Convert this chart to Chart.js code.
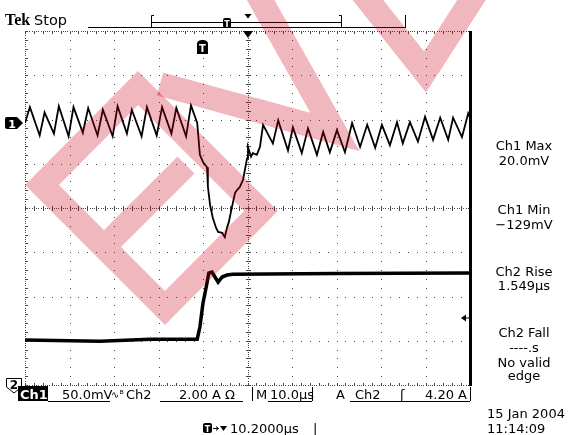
<!DOCTYPE html>
<html>
<head>
<meta charset="utf-8">
<script src="https://cdn.jsdelivr.net/npm/chart.js@4.4.1/dist/chart.umd.min.js"></script>
<style>
  html, body { margin: 0; padding: 0; background: #fff; }
  #wrap { position: relative; width: 573px; height: 435px; overflow: hidden; }
  #scope { position: absolute; left: 0; top: 0; }
  #overlay { position: absolute; left: 0; top: 0; }
  #overlay text { font-family: "DejaVu Sans", sans-serif; fill: #000; }
</style>
</head>
<body>
<div id="wrap">
  <canvas id="scope" width="573" height="435"></canvas>
  <svg id="overlay" width="573" height="435" xmlns="http://www.w3.org/2000/svg">
    <!-- header -->
    <text x="5" y="25" style="font-family:'Liberation Serif',serif;font-weight:bold;font-size:16px">Tek</text>
    <text x="34" y="25" style="font-size:14.5px">Stop</text>
    <line x1="88" y1="27.5" x2="406" y2="27.5" stroke="#000"/>
    <line x1="405.5" y1="15" x2="405.5" y2="28" stroke="#000"/>
    <path d="M154,15.5 H151.5 V27.5 H154 M339,15.5 H341.5 V27.5 H339" stroke="#000" fill="none"/>
    <line x1="151" y1="22.5" x2="341" y2="22.5" stroke="#000"/>
    <rect x="223" y="18" width="8" height="10" rx="2" fill="#000"/>
    <text x="227" y="26.5" text-anchor="middle" style="font-size:8px;font-weight:bold;fill:#fff">T</text>
    <path d="M244.5,14 L251.5,14 L248,18.5 Z" fill="#000"/>
    <!-- graticule markers -->
    <path d="M243,31 L253,31 L248,38 Z" fill="#000"/>
    <path d="M197,54 V44 Q197,40 202.5,40 Q208,40 208,44 V54 Z" fill="#000"/>
    <text x="202.5" y="51.5" text-anchor="middle" style="font-size:10px;font-weight:bold;fill:#fff">T</text>
    <path d="M7,117 H17 L23,123 L17,129 H7 Q5,129 5,127 V119 Q5,117 7,117 Z" fill="#000"/>
    <text x="12" y="127.5" text-anchor="middle" style="font-size:11px;font-weight:bold;fill:#fff">1</text>
    <path d="M6.5,378.5 H21.5 V387 L14,393 L6.5,387 Z" fill="#fff" stroke="#000"/>
    <text x="14" y="389" text-anchor="middle" style="font-size:12px;font-weight:bold">2</text>
    <path d="M461,318 L466,314.5 L466,321.5 Z M465,317.5 H469 V318.5 H465 Z" fill="#000"/>
    <!-- measurement readouts -->
    <g text-anchor="middle" style="font-size:13px">
      <text x="524" y="150">Ch1 Max</text>
      <text x="524" y="165">20.0mV</text>
      <text x="524" y="214">Ch1 Min</text>
      <text x="524" y="229">−129mV</text>
      <text x="524" y="276">Ch2 Rise</text>
      <text x="524" y="290">1.549µs</text>
      <text x="524" y="337">Ch2 Fall</text>
      <text x="524" y="352">----.s</text>
      <text x="524" y="367">No valid</text>
      <text x="524" y="380">edge</text>
    </g>
    <!-- status bar -->
    <rect x="18" y="386" width="30" height="15" fill="#000"/>
    <g style="font-size:13px">
      <text x="20" y="399" style="font-weight:bold;fill:#fff">Ch1</text>
      <text x="62" y="399">50.0mV</text>
      <text x="111" y="398" style="font-size:10px">∿ᴮ</text>
      <text x="126" y="399">Ch2</text>
      <text x="179" y="399">2.00 A Ω</text>
      <text x="256" y="399">M</text>
      <text x="270" y="399">10.0µs</text>
      <text x="336" y="399">A</text>
      <text x="355" y="399">Ch2</text>
      <text x="400" y="399">ʃ</text>
      <text x="425" y="399">4.20 A</text>
      <text x="487" y="418">15 Jan  2004</text>
      <text x="487" y="433">11:14:09</text>
      <text x="230" y="433">10.2000µs</text>
      <text x="313" y="433">|</text>
    </g>
    <path d="M48,401.5 H110 M160,401.5 H243 M268,401.5 H312 M350,401.5 H470" stroke="#000" fill="none"/>
    <path d="M252.5,387 V401 M312.5,387 V401 M470.5,387 V401" stroke="#000"/>
    <rect x="203" y="423" width="9" height="10" rx="2" fill="#000"/>
    <text x="207.5" y="431.5" text-anchor="middle" style="font-size:8px;font-weight:bold;fill:#fff">T</text>
    <path d="M213,428.5 H218 M216,426.5 L218.5,428.5 L216,430.5" stroke="#000" fill="none"/>
    <path d="M220,426 L227,426 L223.5,431 Z" fill="#000"/>
    <!-- watermark -->
    <g fill="none" stroke="rgba(200,0,20,0.28)" stroke-width="24" stroke-linejoin="miter" stroke-miterlimit="10">
      <path d="M138,88 L42,185 L165,308 L261,211 Z M104,247 L186,165"/>
      <path d="M160,84 L335,132 L255,-10"/>
      <path d="M360,-10 L425,72 L478,-10"/>
    </g>
  </svg>
</div>
<script>
// Ch1: 50.0 mV/div, Ch2: 2.00 A/div, 10.0 us/div
const ch1Time = [0, 1.1, 3.3, 4.4, 6.5, 7.6, 9.8, 10.9, 13.0, 14.2, 16.3, 17.5, 19.7, 20.8, 22.9, 24.0,
    26.2, 27.4, 29.6, 30.8, 32.9, 34.0, 36.2, 37.3,
    38.7, 39.3, 40.0, 40.9, 41.1, 41.6, 42.2, 42.9, 43.4, 44.3, 44.9, 45.4, 45.8, 46.5, 47.2, 47.6,
    48.3, 49.0, 49.9, 50.1, 50.8, 51.2, 52.1, 52.8,
    53.5, 55.7, 56.9, 59.1, 60.2, 62.2, 63.6, 65.6, 67.0, 68.5, 70.1, 71.9, 73.5, 75.3, 76.9, 78.7,
    80.2, 82.0, 83.6, 84.9, 86.5, 88.3, 89.9, 91.7, 93.3, 95.1, 96.2, 98.2, 99.6, 100];
const ch1MilliVolt = [0, 18, -14, 12, -12, 19, -15, 18, -11, 17, -14, 15, -15, 19, -12, 15,
    -15, 18, -14, 18, -12, 17, -15, 20,
    0, -36, -44, -50, -72, -93, -107, -118, -123, -124, -129, -118, -112, -95, -79, -76,
    -72, -64, -40, -27, -38, -34, -36, -27,
    -2, -23, 3, -31, -5, -34, -6, -36, -10, -33, -8, -33, 0, -27, -2, -28,
    -2, -25, 1, -23, 1, -21, 7, -19, 6, -19, 6, -16, 11, 6];

const ch2Time = [0, 16.9, 28.1, 38.7, 39.3, 40.0, 40.9, 41.3, 42.0, 42.7, 43.4, 44.3, 45.4, 46.7, 70, 100];
const ch2Amp = [3.21, 3.16, 3.25, 3.25, 3.80, 4.88, 5.79, 6.24, 6.28, 6.06, 5.83, 6.06, 6.15, 6.19, 6.22, 6.24];

// vertical settings (scale per div, position of ground in divs from centre)
const ch1Scale = 50, ch1Pos = 1.92;
const ch2Scale = 2, ch2Pos = -4.59;

const graticule = {
    id: 'graticule',
    beforeDatasetsDraw(chart) {
        const { ctx, chartArea: a } = chart;
        const dx = (a.right - a.left) / 10;
        const dy = (a.bottom - a.top) / 8;
        const cx = Math.round(a.left + 5 * dx);
        const cy = Math.round(a.top + 4 * dy);
        ctx.save();
        ctx.fillStyle = '#444';
        // dotted division lines
        for (let i = 1; i < 10; i++) {
            if (i === 5) continue;
            const x = Math.round(a.left + i * dx);
            for (let j = 0; j <= 40; j++) ctx.fillRect(x, Math.round(a.top + j * dy / 5), 1, 1);
        }
        for (let i = 1; i < 8; i++) {
            if (i === 4) continue;
            const y = Math.round(a.top + i * dy);
            for (let j = 0; j <= 50; j++) ctx.fillRect(Math.round(a.left + j * dx / 5), y, 1, 1);
        }
        // centre lines and border with minor ticks
        const hLine = (y, up, down) => {
            for (let x = a.left; x <= a.right; x += dx / 20) ctx.fillRect(Math.round(x), y, 1, 1);
            for (let j = 0; j <= 50; j++) {
                const x = Math.round(a.left + j * dx / 5);
                ctx.fillRect(x, y - up, 1, up + down + 1);
            }
        };
        const vLine = (x, left, right) => {
            for (let y = a.top; y <= a.bottom; y += dy / 20) ctx.fillRect(x, Math.round(y), 1, 1);
            for (let j = 0; j <= 40; j++) {
                const y = Math.round(a.top + j * dy / 5);
                ctx.fillRect(x - left, y, left + right + 1, 1);
            }
        };
        hLine(cy, 2, 2);
        vLine(cx, 2, 2);
        hLine(Math.round(a.top), 0, 2);
        hLine(Math.round(a.bottom), 2, 0);
        vLine(Math.round(a.left), 0, 2);
        ctx.fillStyle = '#000';
        ctx.fillRect(Math.round(a.right) - 1, a.top, 3, a.bottom - a.top + 1);
        ctx.restore();
    }
};

const ctx = document.getElementById('scope');
new Chart(ctx, {
    type: 'line',
    data: {
        datasets: [{
            label: 'Ch1',
            data: ch1Time.map((t, i) => ({ x: t, y: ch1MilliVolt[i] })),
            yAxisID: 'y1',
            borderColor: '#000',
            borderWidth: 1.8,
            pointRadius: 0,
            tension: 0
        }, {
            label: 'Ch2',
            data: ch2Time.map((t, i) => ({ x: t, y: ch2Amp[i] })),
            yAxisID: 'y2',
            borderColor: '#000',
            borderWidth: 3.5,
            pointRadius: 0,
            tension: 0
        }]
    },
    options: {
        responsive: false,
        animation: false,
        events: [],
        layout: { padding: { left: 25, top: 31, right: 103, bottom: 50 } },
        plugins: { legend: { display: false }, tooltip: { enabled: false }, title: { display: false } },
        scales: {
            x: { type: 'linear', min: 0, max: 100, display: false },
            y1: { type: 'linear', min: (-4 - ch1Pos) * ch1Scale, max: (4 - ch1Pos) * ch1Scale, display: false },
            y2: { type: 'linear', min: (-4 - ch2Pos) * ch2Scale, max: (4 - ch2Pos) * ch2Scale, display: false }
        }
    },
    plugins: [graticule]
});
</script>
</body>
</html>
